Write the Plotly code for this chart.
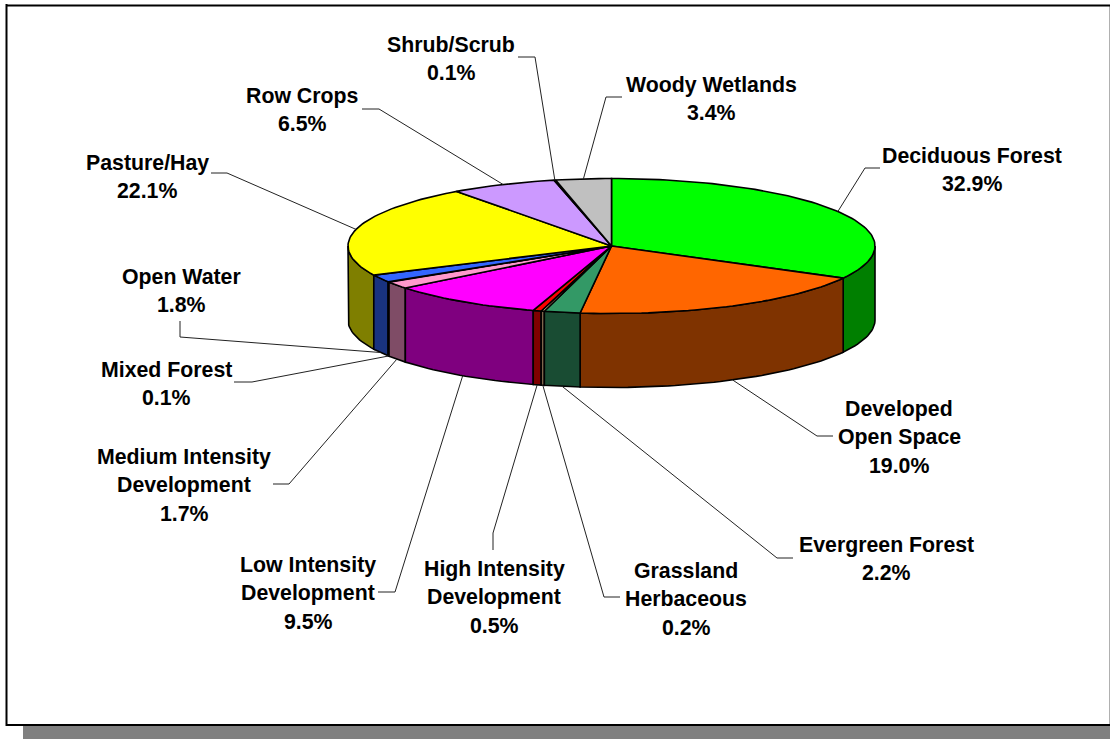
import math
import plotly.graph_objects as go

# ---- data ----
categories = ["Deciduous Forest", "Developed Open Space", "Evergreen Forest", "Grassland Herbaceous",
              "High Intensity Development", "Low Intensity Development", "Medium Intensity Development",
              "Mixed Forest", "Open Water", "Pasture/Hay", "Row Crops", "Shrub/Scrub", "Woody Wetlands"]
values = [32.9, 19.0, 2.2, 0.2, 0.5, 9.5, 1.7, 0.1, 1.8, 22.1, 6.5, 0.1, 3.4]
top_colors = ["#00FF00", "#FF6600", "#339966", "#FFCC99", "#FF0000", "#FF00FF", "#FF99CC",
              "#FFFFFF", "#3366FF", "#FFFF00", "#CC99FF", "#800080", "#C0C0C0"]

# label text lines
label_lines = [["Deciduous Forest"], ["Developed", "Open Space"], ["Evergreen Forest"], ["Grassland", "Herbaceous"],
               ["High Intensity", "Development"], ["Low Intensity", "Development"], ["Medium Intensity", "Development"],
               ["Mixed Forest"], ["Open Water"], ["Pasture/Hay"], ["Row Crops"], ["Shrub/Scrub"], ["Woody Wetlands"]]

# ---- layout (pixel space of the page) ----
W, H = 1110, 739
CX, CY, RX, RY, DEPTH = 611.5, 246, 263.5, 67.5, 74
LINE_GAP = 28.4
FONT = dict(family="Liberation Sans, Arial, sans-serif", size=21.3, color="black")
# centre x and first-line centre y of each label
label_pos = [(972, 156), (899, 409), (886, 545), (686, 571), (494, 569), (308, 565), (184, 457),
             (166, 370), (181, 277), (147, 163), (302, 96), (451, 45), (711, 85)]
# leader: on wall? + elbow + end
leaders = [(False, (865, 168), (880, 168)), (True, (817, 436), (833, 436)), (True, (777, 558), (793, 558)),
           (True, (604, 597), (620, 597)), (True, (493, 533), (493, 550)), (True, (395, 592), (378, 592)),
           (True, (289, 484), (273, 484)), (True, (252, 382), (234, 382)), (True, (180, 337), (180, 321)),
           (False, (227, 173), (211, 173)), (False, (379, 109), (362, 109)), (False, (535, 57), (518, 57)),
           (False, (606, 97), (622, 97))]


def pt(deg, dz=0.0):
    a = math.radians(deg)
    return CX + RX * math.sin(a), CY - RY * math.cos(a) + dz


def arc(a0, a1, dz=0.0):
    n = max(2, int(abs(a1 - a0) / 1.5) + 2)
    return [pt(a0 + (a1 - a0) * i / (n - 1), dz) for i in range(n)]


def darker(hex_colour):
    r, g, b = (int(hex_colour[i:i + 2], 16) for i in (1, 3, 5))
    return f"rgb({r // 2},{g // 2},{b // 2})"


total = sum(values)
angles = [0.0]
for v in values:
    angles.append(angles[-1] + v / total * 360)

fig = go.Figure()


def poly(points, fill, name, width=1.6):
    xs = [p[0] for p in points] + [points[0][0]]
    ys = [p[1] for p in points] + [points[0][1]]
    fig.add_trace(go.Scatter(x=xs, y=ys, mode="lines", fill="toself", fillcolor=fill,
                             line=dict(color="black", width=width), name=name,
                             hoverinfo="name", showlegend=False))


# walls (only the front half is visible), left and right towards the centre
order = sorted(range(len(values)), key=lambda i: -abs((angles[i] + angles[i + 1]) / 2 - 180))
for i in order:
    a0, a1 = max(angles[i], 90), min(angles[i + 1], 270)
    if a1 > a0:
        poly(arc(a0, a1) + arc(a1, a0, DEPTH), darker(top_colors[i]), categories[i])

# top faces
for i in range(len(values)):
    poly([(CX, CY)] + arc(angles[i], angles[i + 1]), top_colors[i], categories[i])

# leaders, from the middle of each slice's outer edge
for i, (wall, elbow, end) in enumerate(leaders):
    start = pt((angles[i] + angles[i + 1]) / 2, DEPTH if wall else 0)
    fig.add_trace(go.Scatter(x=[start[0], elbow[0], end[0]], y=[start[1], elbow[1], end[1]],
                             mode="lines", line=dict(color="#222222", width=1),
                             hoverinfo="skip", showlegend=False))

# labels: each line on its own so that the line spacing is exact
annotations = []
for i, lines in enumerate(label_lines):
    x, y = label_pos[i]
    for k, line in enumerate(lines + [f"{values[i]:.1f}%"]):
        annotations.append(dict(x=x, y=y + k * LINE_GAP, xref="x", yref="y", text=f"<b>{line}</b>",
                                showarrow=False, font=FONT, xanchor="center", yanchor="middle"))

shapes = [
    dict(type="rect", x0=23, y0=726, x1=1110, y1=739, fillcolor="#808080", line_width=0, layer="below"),
    dict(type="line", x0=1109.5, y0=5, x1=1109.5, y1=726, line=dict(color="#B0B0B0", width=1), layer="below"),
    dict(type="line", x0=6.5, y0=4, x1=6.5, y1=726, line=dict(color="black", width=2), layer="below"),
    dict(type="line", x0=6, y0=5.5, x1=1110, y1=5.5, line=dict(color="black", width=2), layer="below"),
    dict(type="line", x0=6, y0=725, x1=1110, y1=725, line=dict(color="black", width=2), layer="below"),
]

fig.update_layout(
    width=W, height=H, margin=dict(l=0, r=0, t=0, b=0),
    paper_bgcolor="white", plot_bgcolor="white", showlegend=False,
    xaxis=dict(range=[0, W], visible=False, fixedrange=True),
    yaxis=dict(range=[H, 0], visible=False, fixedrange=True),
    annotations=annotations, shapes=shapes,
)
fig.write_html("out.html", config={"displayModeBar": False},
               post_script="document.body.style.margin='0';document.body.style.overflow='hidden';")
